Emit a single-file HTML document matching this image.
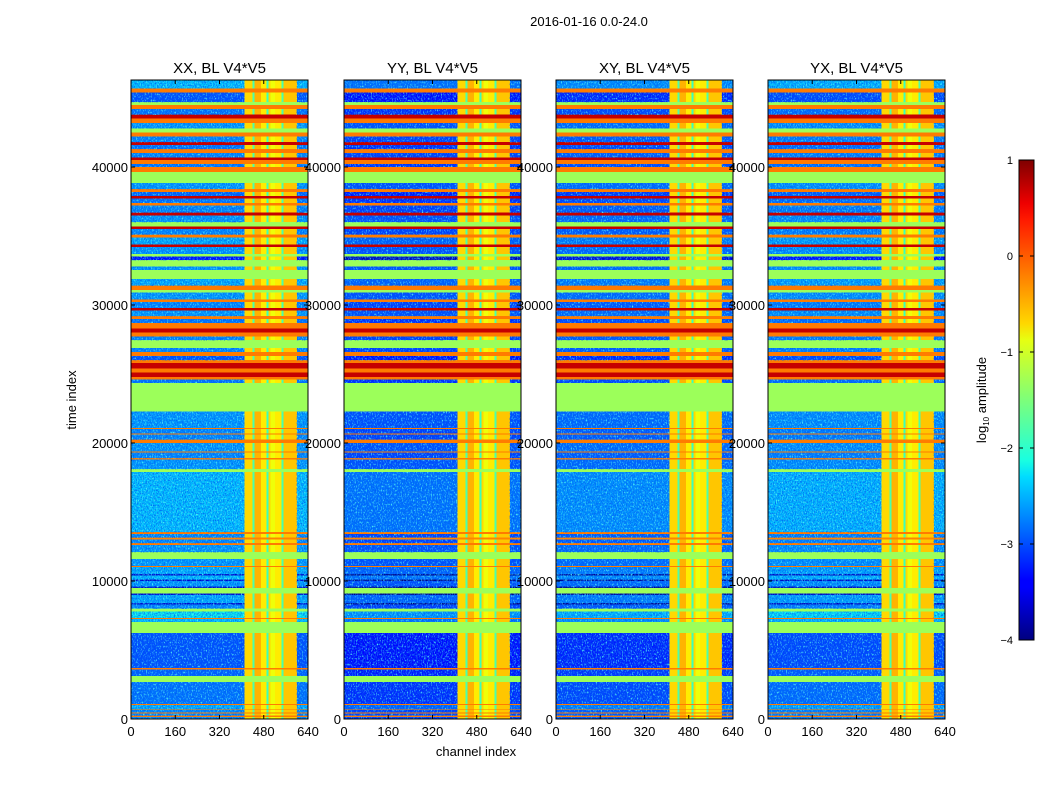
<!DOCTYPE html>
<html><head><meta charset="utf-8"><style>
body{margin:0;background:#fff;}
svg text{font-family:"Liberation Sans",sans-serif;fill:#000;}
</style></head><body>
<svg id="fig" width="1050" height="800" xmlns="http://www.w3.org/2000/svg">
<text x="589" y="26" font-size="13" text-anchor="middle">2016-01-16 0.0-24.0</text>
<text x="76" y="400" font-size="13" text-anchor="middle" transform="rotate(-90 76 400)">time index</text>
<text x="476" y="756" font-size="13" text-anchor="middle">channel index</text>
<defs><linearGradient id="jet" x1="0" y1="1" x2="0" y2="0">
<stop offset="0" stop-color="#00007f"/><stop offset="0.11" stop-color="#0000ff"/><stop offset="0.125" stop-color="#0000ff"/><stop offset="0.34" stop-color="#00dcff"/><stop offset="0.375" stop-color="#1affe0"/><stop offset="0.5" stop-color="#7dff7a"/><stop offset="0.625" stop-color="#e6ff12"/><stop offset="0.66" stop-color="#ffd700"/><stop offset="0.875" stop-color="#ff1a00"/><stop offset="0.91" stop-color="#ee0000"/><stop offset="1" stop-color="#7f0000"/>
</linearGradient>
<filter id="speck" x="0" y="0" width="100%" height="100%">
<feTurbulence type="fractalNoise" baseFrequency="0.9 0.6" numOctaves="2" seed="3"/>
<feColorMatrix type="matrix" values="0 0 0 0 0  0 0 0 0 0.1  0 0 0 0 0.9  0 0 0 -2.2 1.35"/>
</filter>
<filter id="speck2" x="0" y="0" width="100%" height="100%">
<feTurbulence type="fractalNoise" baseFrequency="0.8 0.5" numOctaves="2" seed="9"/>
<feColorMatrix type="matrix" values="0 0 0 0 0.1  0 0 0 0 1  0 0 0 0 0.9  0 0 0 3 -1.6"/>
</filter>
</defs>
<g id="panels"></g>
<g id="cbar"></g>
</svg>
<script>
const titles=["XX, BL V4*V5","YY, BL V4*V5","XY, BL V4*V5","YX, BL V4*V5"];
const panelOffset=[-0.2,-0.6,-0.45,-0.25];
const xTicks=[0,160,320,480,640];
const yTicks=[0,10000,20000,30000,40000];
const bandEdges=[0,150,250,400,480,650,700,1000,1100,2680,3120,3600,3700,6230,7030,7250,7330,7800,8000,8300,8400,9000,9100,9500,9600,10000,10100,10400,10500,11000,11100,11600,12100,12600,12750,13000,13150,13400,13550,17900,18100,18800,18900,19300,19400,20000,20250,20600,20700,21000,21100,22300,24350,24600,24800,25100,25400,25800,26000,26300,26600,26900,27460,27700,28000,28300,28700,29000,29200,29600,29800,30200,30400,30900,31100,31400,31900,32540,32800,33260,33500,33700,34200,34400,34900,35100,35500,35700,36000,36500,36700,37200,37400,37700,37900,38200,38400,38840,39640,40000,40200,40500,40700,41000,41300,41600,41800,42200,42500,42800,43200,43500,43800,44200,44500,44700,45400,45700,46300];
const bandValues=[-2.5,-0.1,-2.5,-0.1,-2.5,-0.1,-2.3,-0.1,-2.6,-1.3,-2.7,-0.1,-2.8,-1.3,-2.2,-0.1,-2.0,-1.3,-2.5,-3.5,-2.3,-3.5,-1.3,-3.5,-2.4,-3.5,-2.2,-3.5,-2.3,-0.1,-2.4,-1.3,-2.4,-0.1,-2.5,-0.15,-2.5,-0.1,-2.2,-1.3,-2.4,-0.1,-2.5,-0.1,-2.4,-0.1,-2.5,-0.1,-2.5,-0.1,-2.4,-1.3,-2.6,-0.1,0.7,-0.1,0.7,-0.1,-2.8,-0.1,-2.5,-1.3,-2.5,-0.1,0.7,-0.1,-2.6,-0.1,-2.4,0.7,-2.5,-0.1,-2.4,-1.3,-0.1,-2.3,-1.3,-2.4,-1.3,-3.2,-1.3,-2.4,0.7,-2.3,-0.1,-2.5,0.7,-1.3,-2.4,0.7,-2.5,-0.1,-2.6,0.7,-2.7,-0.1,-2.4,-1.3,-0.1,-2.6,-0.1,0.7,-2.5,-0.1,-2.6,0.7,-2.5,-0.1,-1.3,-2.4,-0.1,0.7,-2.6,-0.1,-1.3,-2.8,-0.1,-2.2];
const colEdges=[0,410,440,447,470,490,497,505,520,545,552,600,640];
const colValues=[null,-0.6,-1.8,-0.4,-0.7,-1.9,-0.6,-0.8,-0.7,-1.8,-0.5,null];
const panelX=[131,344,556,768];
const PW=177,PT=80,PB=719;
function interp(t,pts){for(let i=0;i<pts.length-1;i++){const[a,va]=pts[i],[b,vb]=pts[i+1];if(t<=b)return va+(vb-va)*(t-a)/(b-a);}return pts[pts.length-1][1];}
function jet(v){const t=Math.max(0,Math.min(1,(v+4)/5));
const r=interp(t,[[0,0],[0.35,0],[0.66,1],[0.89,1],[1,0.5]]);
const g=interp(t,[[0,0],[0.125,0],[0.375,1],[0.64,1],[0.91,0],[1,0]]);
const b=interp(t,[[0,0.5],[0.11,1],[0.34,1],[0.65,0],[1,0]]);
const c=x=>Math.round(255*x);return `rgb(${c(r)},${c(g)},${c(b)})`;}
const NS="http://www.w3.org/2000/svg";
function mk(tag,at,parent){const e=document.createElementNS(NS,tag);for(const k in at)e.setAttribute(k,at[k]);parent.appendChild(e);return e;}
const yS=t=>PB-t*(552/40000);
const gP=document.getElementById('panels');
panelX.forEach((x0,p)=>{
  const xS=c=>x0+c*PW/640;
  const g=mk('g',{},gP);
  
  
  const hm=mk('g',{'shape-rendering':'crispEdges'},g);
  
  
  for(let i=0;i<bandValues.length;i++){
    const v=bandValues[i],y1=yS(bandEdges[i+1]),y0=yS(bandEdges[i]);
    const noisy=v<-1.8;
    if(!noisy){const r=mk('rect',{x:xS(0),y:y1,width:PW,height:y0-y1,fill:jet(v)},hm);
      
      continue;}
    for(let j=0;j<colValues.length;j++){
      const cv=colValues[j]===null?v+panelOffset[p]:colValues[j];
      const r=mk('rect',{x:xS(colEdges[j]),y:y1,width:xS(colEdges[j+1])-xS(colEdges[j]),height:y0-y1,fill:jet(cv)},hm);
      
      
      if(colValues[j]===null){
        const s=mk('rect',{x:xS(colEdges[j]),y:y1,width:xS(colEdges[j+1])-xS(colEdges[j]),height:y0-y1,filter:'url(#speck)'},hm);
        
        
        const s2=mk('rect',{x:xS(colEdges[j]),y:y1,width:xS(colEdges[j+1])-xS(colEdges[j]),height:y0-y1,filter:'url(#speck2)'},hm);
        
        
      }
    }
  }
  const fr=mk('rect',{x:x0,y:PT,width:PW,height:PB-PT,fill:'none',stroke:'#000','stroke-width':1},g);
  
  
  const tt=mk('text',{x:x0+PW/2,y:73,'font-size':15,'text-anchor':'middle'},g);tt.textContent=titles[p];
  
  
  xTicks.forEach(c=>{const X=xS(c);mk('line',{x1:X,x2:X,y1:PB,y2:PB-4,stroke:'#000'},g);mk('line',{x1:X,x2:X,y1:PT,y2:PT+4,stroke:'#000'},g);
    const t=mk('text',{x:X,y:736,'font-size':13,'text-anchor':'middle'},g);t.textContent=c;
    
    });
  yTicks.forEach(v=>{const Y=yS(v);mk('line',{x1:x0,x2:x0+4,y1:Y,y2:Y,stroke:'#000'},g);mk('line',{x1:x0+PW,x2:x0+PW-4,y1:Y,y2:Y,stroke:'#000'},g);
    const t=mk('text',{x:x0-3,y:Y+5,'font-size':13,'text-anchor':'end'},g);t.textContent=v;
    
    });
});
const cb=document.getElementById('cbar');


mk('rect',{x:1019,y:160,width:15,height:480,fill:'url(#jet)',stroke:'#000','stroke-width':1},cb);
const cbTicks=[1,0,-1,-2,-3,-4];
cbTicks.forEach(v=>{const Y=160+(1-v)*96;mk('line',{x1:1019,x2:1023,y1:Y,y2:Y,stroke:'#000'},cb);mk('line',{x1:1034,x2:1030,y1:Y,y2:Y,stroke:'#000'},cb);
  const t=mk('text',{x:1013,y:Y+4,'font-size':11,'text-anchor':'end'},cb);t.textContent=v<0?'\u2212'+(-v):v;
  
  });
const cl=mk('text',{x:986,y:400,'font-size':13,'text-anchor':'middle',transform:'rotate(-90 986 400)'},cb);
cl.innerHTML='log<tspan font-size="8" dy="3">10</tspan><tspan dy="-3"> amplitude</tspan>';


</script>
</body></html>
